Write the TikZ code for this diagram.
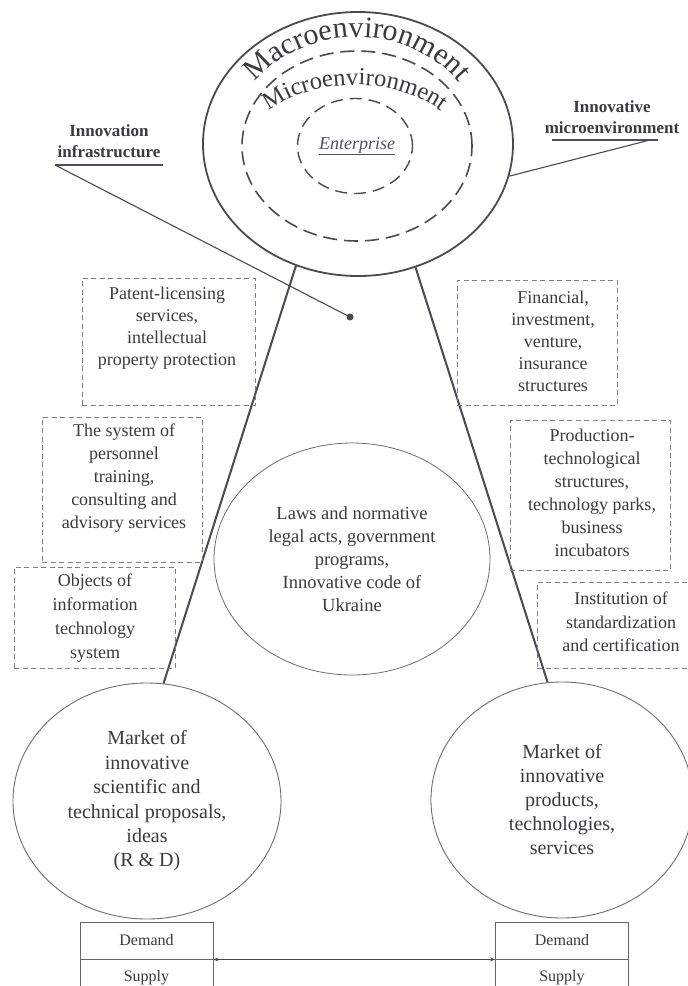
\documentclass[tikz,border=0pt]{standalone}
\usepackage{fontspec}
\setmainfont{Liberation Serif}
\usetikzlibrary{decorations.text,arrows.meta,shapes.geometric}
\definecolor{linec}{HTML}{4A4A52}
\definecolor{txtc}{HTML}{3A3A40}
\definecolor{boxc}{HTML}{7A7E8E}
\definecolor{ulc}{HTML}{4A5068}
\begin{document}
\begin{tikzpicture}[x=1pt,y=-1pt,
  envsolid/.style={draw=linec, line width=1.8pt, ellipse, inner sep=0pt},
  envdash/.style={draw=linec, line width=1.6pt, dash pattern=on 14pt off 7pt, ellipse, inner sep=0pt},
  market/.style={draw=linec!80, line width=0.9pt, ellipse, inner sep=0pt, align=center, text=txtc},
  dbox/.style={draw=boxc, line width=0.9pt, dash pattern=on 5pt off 3.5pt, rectangle, inner sep=0pt},
  btxt/.style={align=center, text=txtc, inner sep=0pt, font=\fontsize{18}{22.5}\selectfont},
  lbl/.style={align=center, text=txtc, inner sep=0pt, font=\bfseries\fontsize{17}{21}\selectfont},
  mainline/.style={draw=linec, line width=2pt},
  thinline/.style={draw=linec, line width=1.1pt},
  ds/.style={draw=boxc!80!black, line width=0.8pt, rectangle, minimum width=133pt, minimum height=37pt, inner sep=0pt, text=txtc, font=\fontsize{16}{18}\selectfont}
]
\useasboundingbox (0,0) rectangle (688,986);
\fill[white] (0,0) rectangle (688,986);

% environment ellipses
\node[envsolid, minimum width=310pt, minimum height=264pt] (macro) at (358,144) {};
\node[envdash, minimum width=230pt, minimum height=190pt] (micro) at (357,146) {};
\node[envdash, line width=1.4pt, dash pattern=on 12pt off 7pt, minimum width=115pt, minimum height=95pt] (ent) at (355,146) {};
\node[text=ulc, font=\itshape\fontsize{18}{20}\selectfont] (enttxt) at (357,146) {\underline{Enterprise}};

% curved titles
\path[decorate, decoration={text along path, text align=center,
  text={|\fontsize{30}{30}\selectfont\color{txtc}|Macroenvironment}}]
  (357,146) ++(200:125 and 109) arc[start angle=200, end angle=340, x radius=125, y radius=109];
\path[decorate, decoration={text along path, text align=center,
  text={|\fontsize{24.5}{24.5}\selectfont\color{txtc}|Microenvironment}}]
  (355,170) ++(200:120 and 85) arc[start angle=200, end angle=340, x radius=120, y radius=85];

% side labels
\node[lbl] (lblL) at (109,141) {Innovation\\infrastructure};
\coordinate (uL1) at (55,165);
\coordinate (uL2) at (163,165);
\draw[thinline, draw=ulc] (uL1) -- (uL2);
\node[circle, fill=linec, inner sep=0pt, minimum size=7pt] (dot) at (350,317) {};
\draw[thinline] (uL1) -- (dot.center);

\node[lbl] (lblR) at (612,117) {Innovative\\microenvironment};
\coordinate (uR1) at (552,140);
\coordinate (uR2) at (658,140);
\coordinate (uR3) at (650,140);
\draw[thinline, draw=ulc] (uR1) -- (uR2);
\draw[thinline] (uR3) -- (macro.348);

% markets
\node[market, minimum width=268pt, minimum height=236pt, font=\fontsize{20}{24.4}\selectfont] (rd) at (147,801)
  {Market of\\innovative\\scientific and\\technical proposals,\\ideas\\(R \& D)};
\node[market, minimum width=262pt, minimum height=236pt, font=\fontsize{20}{24}\selectfont] (prod) at (562,800)
  {Market of\\innovative\\products,\\technologies,\\services};
\node[market, line width=0.8pt, minimum width=276pt, minimum height=232pt, font=\fontsize{18.5}{23}\selectfont] (laws) at (352,559)
  {Laws and normative\\legal acts, government\\programs,\\Innovative code of\\Ukraine};

% main lines
\draw[mainline] (macro.243) -- (rd.82);
\draw[mainline] (macro.295) -- (prod.97);

% dashed boxes
\node[dbox, minimum width=173pt, minimum height=127pt] (b1) at (168.5,341.5) {};
\node[btxt, font=\fontsize{18}{22}\selectfont] (t1) at (167,328) {Patent-licensing\\services,\\intellectual\\property protection};
\node[dbox, minimum width=160pt, minimum height=145pt] (b2) at (122,489.5) {};
\node[btxt, font=\fontsize{18}{23}\selectfont] (t2) at (124,478) {The system of\\personnel\\training,\\consulting and\\advisory services};
\node[dbox, minimum width=161pt, minimum height=101pt] (b3) at (94.5,617.5) {};
\node[btxt, font=\fontsize{18}{24}\selectfont] (t3) at (95,618) {Objects of\\information\\technology\\system};
\node[dbox, minimum width=160pt, minimum height=125pt] (b4) at (537,342.5) {};
\node[btxt, font=\fontsize{18}{22}\selectfont] (t4) at (553,341) {Financial,\\investment,\\venture,\\insurance\\structures};
\node[dbox, minimum width=160pt, minimum height=150pt] (b5) at (590,495) {};
\node[btxt, font=\fontsize{18}{23}\selectfont] (t5) at (592,493) {Production-\\technological\\structures,\\technology parks,\\business\\incubators};
\node[dbox, minimum width=168pt, minimum height=86pt] (b6) at (621,625) {};
\node[btxt, font=\fontsize{18}{23.5}\selectfont] (t6) at (621,622) {Institution of\\standardization\\and certification};

% demand / supply
\node[ds] (dl) at (146.5,940.5) {Demand};
\node[ds] (sl) at (146.5,977.5) {Supply};
\node[ds] (dr) at (562,940.5) {Demand};
\node[ds] (sr) at (562,977.5) {Supply};
\draw[draw=linec, line width=1.8pt, {Stealth[length=5pt,width=4pt]}-{Stealth[length=5pt,width=4pt]}] (dl.south east) -- (dr.south west);
\end{tikzpicture}
\end{document}
